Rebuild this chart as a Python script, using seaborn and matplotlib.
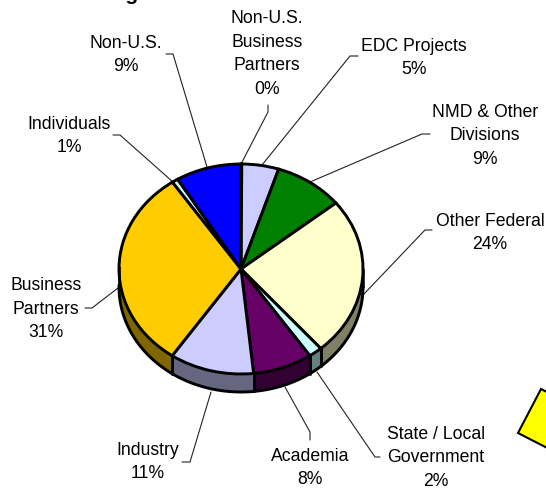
import numpy as np
import matplotlib
matplotlib.use('Agg')
import matplotlib.pyplot as plt
from matplotlib.patches import Polygon
import seaborn as sns

labels = ["Non-U.S.\nBusiness\nPartners\n0%", "EDC Projects\n5%", "NMD & Other\nDivisions\n9%",
          "Other Federal\n24%", "State / Local\nGovernment\n2%", "Academia\n8%", "Industry\n11%",
          "Business\nPartners\n31%", "Individuals\n1%", "Non-U.S.\n9%"]
shares = [0.1, 4.9, 9.2, 24.5, 1.8, 7.9, 11.2, 31, 0.8, 8.7]
colors = ["#CCCCFF", "#CCCCFF", "#008000", "#FFFFCC", "#CCFFFF", "#660066", "#CCCCFF", "#FFCC00", "#CCFFFF", "#0000FF"]
sides = ["#666680", "#666680", "#004000", "#808066", "#668080", "#330033", "#666680", "#806600", "#668080", "#000080"]

# text centre and leader line, in pixels of the picture
text_xy = [(267, 54), (414, 58), (485, 136), (490, 233), (436, 458), (310, 468), (148, 462), (46, 309), (69, 136), (126, 55)]
leaders = [[(268, 105), (268, 112), (241, 164)],
           [(358, 56), (350, 56), (262, 165)],
           [(430, 134), (422, 134), (310, 182)],
           [(432, 230), (425, 230), (363, 295)],
           [(380, 457), (375, 457), (317, 372)],
           [(310, 440), (310, 432), (285, 387)],
           [(182, 462), (190, 462), (211, 392)],
           [(85, 308), (92, 308), (118, 288)],
           [(113, 135), (120, 135), (173, 182)],
           [(166, 54), (173, 54), (207, 167)]]
note_box = [(541, 389), (518, 433), (600, 475), (623, 431)]

W, H = 546, 491
cx, cy, rx, ry, depth = 241, 269, 122, 105, 18

sns.set_theme(style="white")
plt.rcParams['font.family'] = ['Liberation Sans']

fig = plt.figure(figsize=(W / 100, H / 100), dpi=100)
bg = fig.add_axes([0, 0, 1, 1])
bg.set_xlim(0, W)
bg.set_ylim(H, 0)
bg.axis('off')

ax = fig.add_axes([(cx - rx) / W, 1 - (cy + ry) / H, 2 * rx / W, 2 * ry / H])
ax.patch.set_alpha(0)

# rim first, then the flat pie on top
drop = 2 * depth / (2 * ry)
edges = 90 - 3.6 * np.cumsum([0] + shares) * 100 / sum(shares)
for i in range(len(shares)):
    t = np.radians(np.linspace(edges[i], edges[i + 1], 60))
    t = t[np.sin(t) <= 0.02]
    if len(t) == 0:
        continue
    ax.fill_between(np.cos(t), np.sin(t), np.sin(t) - drop, color=sides[i], lw=0)
    ax.plot(np.cos(t), np.sin(t) - drop, color='black', lw=2.1, solid_capstyle='round')
    ax.plot([np.cos(t[-1])] * 2, [np.sin(t[-1]), np.sin(t[-1]) - drop], color='black', lw=1.8)
    ax.plot([np.cos(t[0])] * 2, [np.sin(t[0]), np.sin(t[0]) - drop], color='black', lw=1.8)

ax.pie(shares, colors=colors, startangle=90, counterclock=False, radius=1,
       wedgeprops=dict(edgecolor='black', linewidth=2.1))
ax.set_aspect('auto')
ax.set_xlim(-1, 1)
ax.set_ylim(-1, 1)
ax.axis('off')
for a in ax.get_children():
    a.set_clip_on(False)

for lab, (x, y), pts in zip(labels, text_xy, leaders):
    bg.text(x, y, lab, ha='center', va='center', fontsize=12.7, color='black', linespacing=1.5)
    bg.plot(*zip(*pts), color='#222222', lw=0.8)

bg.add_patch(Polygon(note_box, closed=True, facecolor='#FFFF00', edgecolor='black', lw=1.5))
bg.text(139, 0, "Funding", ha='right', va='baseline', fontsize=15, fontweight='bold', color='black')

fig.savefig('out.png', dpi=100)
